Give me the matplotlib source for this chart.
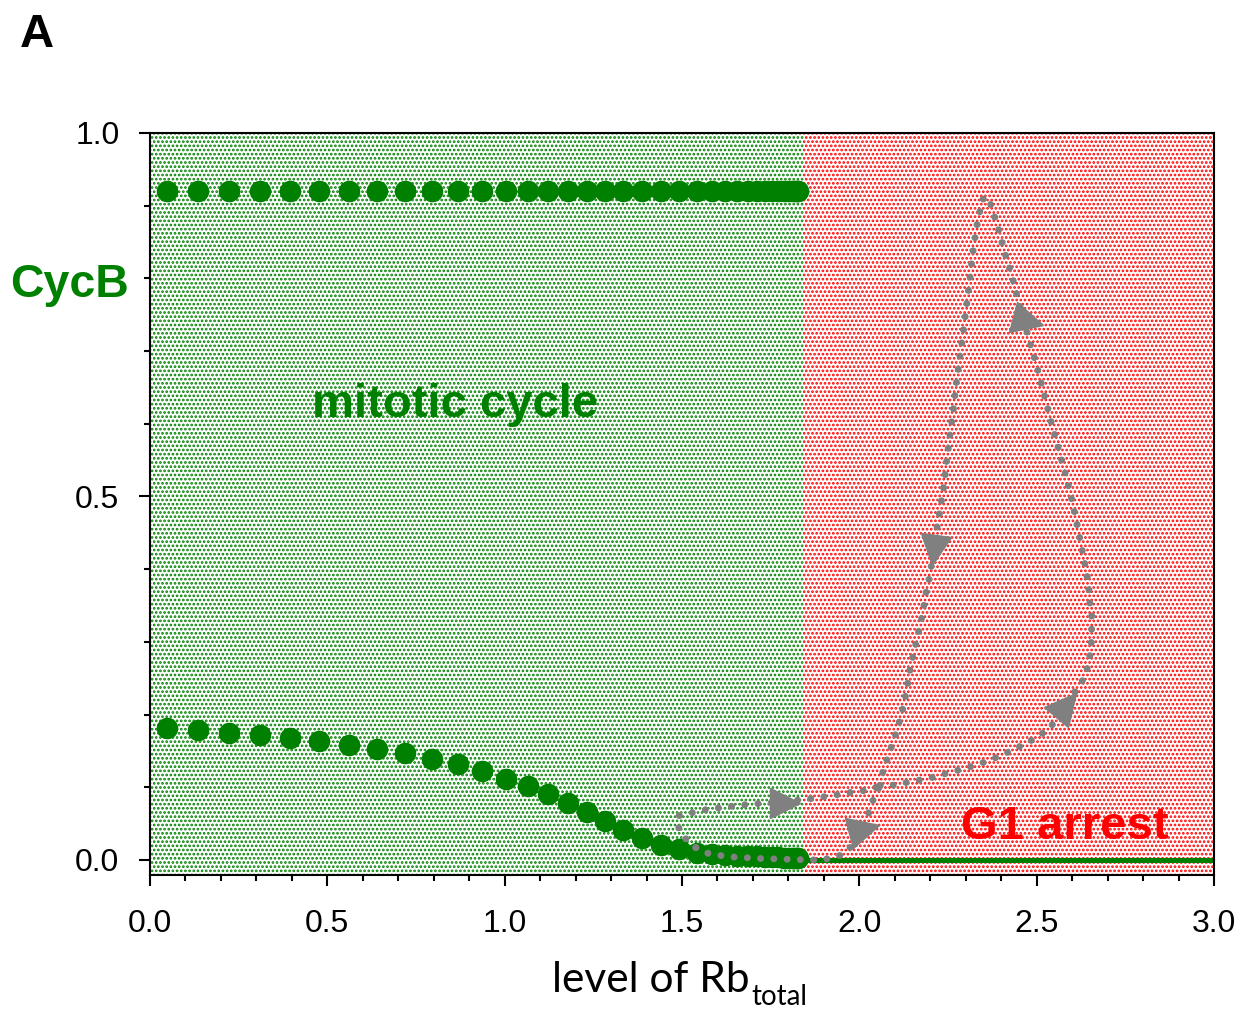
import matplotlib
matplotlib.use("Agg")
import matplotlib.pyplot as plt
from matplotlib.markers import MarkerStyle
from matplotlib.transforms import Affine2D
from matplotlib.ticker import MultipleLocator, FormatStrFormatter

# bifurcation diagram: CycB max/min along the limit cycle vs Rb_total
rb = [0.049, 0.136, 0.223, 0.309, 0.395, 0.477, 0.560, 0.641, 0.719, 0.795,
      0.868, 0.937, 1.003, 1.065, 1.123, 1.178, 1.231, 1.283, 1.334, 1.388,
      1.441, 1.492, 1.541, 1.585, 1.621, 1.655, 1.686, 1.711, 1.734, 1.754,
      1.771, 1.788, 1.800, 1.810, 1.818, 1.824, 1.828]
cycb_max = [0.920, 0.920, 0.920, 0.920, 0.920, 0.920, 0.920, 0.920, 0.920, 0.920,
            0.920, 0.920, 0.920, 0.920, 0.920, 0.920, 0.920, 0.920, 0.920, 0.920,
            0.920, 0.920, 0.920, 0.920, 0.920, 0.920, 0.920, 0.920, 0.920, 0.920,
            0.920, 0.920, 0.920, 0.920, 0.920, 0.920, 0.920]
cycb_min = [0.181, 0.179, 0.175, 0.172, 0.168, 0.163, 0.158, 0.153, 0.147, 0.139,
            0.132, 0.122, 0.112, 0.102, 0.091, 0.078, 0.066, 0.054, 0.041, 0.030,
            0.021, 0.015, 0.010, 0.008, 0.007, 0.006, 0.005, 0.005, 0.004, 0.004,
            0.004, 0.003, 0.003, 0.003, 0.003, 0.003, 0.003]

# stable steady state (G1 arrest)
ss_x = [1.84, 3.0]
ss_y = [0.0, 0.0]
boundary = 1.84

# gray trajectories
traj_a_x = [1.539, 1.504, 1.485, 1.492, 1.529, 1.565, 1.624, 1.697, 1.734,
            1.842, 1.915, 1.989, 2.025, 2.058]
traj_a_y = [0.017, 0.032, 0.050, 0.061, 0.065, 0.069, 0.073, 0.077, 0.078,
            0.083, 0.088, 0.094, 0.096, 0.102]
traj_b_x = [1.539, 1.574, 1.610, 1.647, 1.722, 1.795, 1.867, 1.903, 1.941,
            1.974, 2.013, 2.030, 2.044, 2.058]
traj_b_y = [0.017, 0.009, 0.006, 0.004, 0.002, 0.001, 0.000, 0.001, 0.005,
            0.017, 0.043, 0.071, 0.089, 0.102]
loop_x = [2.058, 2.099, 2.137, 2.172, 2.210, 2.245, 2.283, 2.318, 2.355, 2.391,
          2.427, 2.464, 2.502, 2.538, 2.583, 2.636, 2.646, 2.652, 2.655, 2.655,
          2.648, 2.647, 2.641, 2.627, 2.612, 2.596, 2.578, 2.558, 2.538, 2.519,
          2.500, 2.479, 2.449, 2.430, 2.408, 2.388, 2.364, 2.355, 2.347, 2.331,
          2.320, 2.312, 2.303, 2.294, 2.284, 2.274, 2.266, 2.256, 2.247, 2.239,
          2.227, 2.215, 2.199, 2.190, 2.178, 2.162, 2.145, 2.126, 2.106, 2.081,
          2.068, 2.058]
loop_y = [0.102, 0.103, 0.107, 0.110, 0.114, 0.119, 0.124, 0.129, 0.135, 0.142,
          0.150, 0.159, 0.169, 0.182, 0.213, 0.252, 0.270, 0.287, 0.306, 0.341,
          0.358, 0.377, 0.394, 0.430, 0.466, 0.502, 0.537, 0.572, 0.608, 0.644,
          0.680, 0.715, 0.768, 0.804, 0.839, 0.875, 0.911, 0.912, 0.908, 0.872,
          0.836, 0.801, 0.765, 0.730, 0.694, 0.658, 0.623, 0.587, 0.552, 0.517,
          0.480, 0.446, 0.391, 0.374, 0.338, 0.303, 0.267, 0.214, 0.178, 0.142,
          0.125, 0.102]
arrow_x = [1.790, 2.013, 2.583, 2.476, 2.211]
arrow_y = [0.078, 0.043, 0.213, 0.741, 0.426]
arrow_angle = [0, 15, 50, -15, -97]

plt.rcParams['font.family'] = ['Liberation Sans', 'DejaVu Sans']
plt.rcParams['hatch.linewidth'] = 1.3

fig = plt.figure(figsize=(12.46, 10.11), dpi=100)
ax = fig.add_axes([150 / 1246, 1 - 874.5 / 1011, 1064 / 1246, 741.5 / 1011])

ax.axvspan(0, boundary, facecolor='white', edgecolor='green', hatch='....',
           linewidth=0, zorder=0)
ax.axvspan(boundary, 3.0, facecolor='white', edgecolor='red', hatch='....',
           linewidth=0, zorder=0)

ax.plot(rb, cycb_max, 'o', color='green', markersize=14.5, zorder=2)
ax.plot(rb, cycb_min, 'o', color='green', markersize=14.5, zorder=2)
ax.plot(ss_x, ss_y, '-', color='green', linewidth=3.6, zorder=2)

dots = dict(color='gray', linewidth=5, linestyle=(0, (0.01, 1.9)),
            dash_capstyle='round', zorder=3)
ax.plot(traj_a_x, traj_a_y, **dots)
ax.plot(traj_b_x, traj_b_y, **dots)
ax.plot(loop_x, loop_y, **dots)
for x, y, a in zip(arrow_x, arrow_y, arrow_angle):
    m = MarkerStyle('>', transform=Affine2D().rotate_deg(a))
    ax.plot(x, y, marker=m, color='gray', markersize=22, linestyle='none', zorder=4)

ax.set_xlim(0, 3.0)
ax.set_ylim(-0.02, 1.0)
ax.xaxis.set_major_locator(MultipleLocator(0.5))
ax.xaxis.set_minor_locator(MultipleLocator(0.1))
ax.yaxis.set_major_locator(MultipleLocator(0.5))
ax.yaxis.set_minor_locator(MultipleLocator(0.1))
ax.xaxis.set_major_formatter(FormatStrFormatter('%.1f'))
ax.yaxis.set_major_formatter(FormatStrFormatter('%.1f'))
ax.tick_params(which='major', length=8, width=1.5, labelsize=23, pad=14)
ax.tick_params(axis='x', which='major', pad=17)
ax.tick_params(which='minor', length=4.5, width=1.5)
for s in ax.spines.values():
    s.set_linewidth(1.5)

ax.text(-0.395, 0.775, 'CycB', color='green', fontsize=33.5, fontweight='bold',
        ha='left', va='baseline', clip_on=False)
ax.text(0.861, 0.610, 'mitotic cycle', color='green', fontsize=34,
        fontweight='bold', ha='center', va='baseline')
ax.text(2.580, 0.029, 'G1 arrest', color='red', fontsize=34, fontweight='bold',
        ha='center', va='baseline')

fig.text(20 / 1246, 1 - 47 / 1011, 'A', fontsize=34, fontweight='bold',
         ha='left', va='baseline')
fig.text(750 / 1246, 1 - 991.7 / 1011, 'level of Rb', fontsize=30.5,
         family='Lato', ha='right', va='baseline')
fig.text(751 / 1246, 1 - 1005 / 1011, 'total', fontsize=20,
         family='Lato', ha='left', va='baseline')

fig.savefig('out.png', dpi=100)
